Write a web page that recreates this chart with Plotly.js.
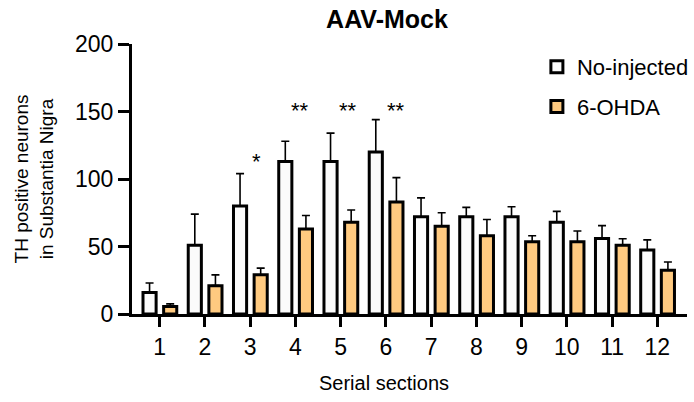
<!DOCTYPE html>
<html>
<head>
<meta charset="utf-8">
<script src="https://cdn.plot.ly/plotly-3.0.1.min.js"></script>
<style>html,body{margin:0;padding:0;background:#fff;}#chart{width:694px;height:402px;}</style>
</head>
<body>
<div id="chart"></div>
<script>
const sections = [1, 2, 3, 4, 5, 6, 7, 8, 9, 10, 11, 12];
const tickLabels = ["1", "2", "3", "4", "5", "6", "7", "8", "9", "10", "11", "12"];
const noInjected = [16, 51, 80, 113, 113, 120, 72, 72, 72, 68, 56, 47.5];
const noInjectedErr = [7, 23, 24, 15, 21, 24, 14, 7, 7.5, 8, 9.5, 7.4];
const ohda = [5.5, 21, 29, 63, 68, 83, 65, 58, 53.5, 53.5, 51, 32.5];
const ohdaErr = [2, 8, 5, 10, 9, 18, 10, 12, 4.5, 8, 4.7, 6];
const sigSections = [3, 4, 5, 6];
const sigLabels = ["*", "**", "**", "**"];
const sigLevels = [113, 151, 151, 151];
const sigShift = [0.14, 0.1, 0.16, 0.23];

const FONT = "Arial, 'Liberation Sans', Helvetica, sans-serif";
const zeros = sections.map(() => 0);

const traces = [
  {
    type: "bar", name: "No-injected", x: sections, y: noInjected,
    width: 0.29, offset: -0.368,
    marker: {color: "#fbfbfb", line: {color: "#000", width: 3}},
    error_y: {type: "data", symmetric: false, array: noInjectedErr, arrayminus: zeros,
              color: "#000", thickness: 1.6, width: 4},
    legendgroup: "a"
  },
  {
    type: "bar", name: "6-OHDA", x: sections, y: ohda,
    width: 0.29, offset: 0.088,
    marker: {color: "#ffca80", line: {color: "#000", width: 3}},
    error_y: {type: "data", symmetric: false, array: ohdaErr, arrayminus: zeros,
              color: "#000", thickness: 1.6, width: 4},
    legendgroup: "b"
  }
];

const annotations = sigSections.map((s, i) => ({
  x: s + sigShift[i], y: sigLevels[i], xref: "x", yref: "y",
  text: sigLabels[i], showarrow: false, yanchor: "middle", xanchor: "center",
  font: {family: FONT, size: 22, color: "#000"}
}));
annotations.push({
  x: (387 - 132) / 562, y: (314 - 383) / 270, xref: "paper", yref: "paper", text: "Serial sections",
  showarrow: false, xanchor: "center", yanchor: "middle",
  font: {family: FONT, size: 20, color: "#000"}
});

const layout = {
  width: 694, height: 402,
  margin: {l: 132, r: 0, t: 44, b: 88},
  paper_bgcolor: "#fff", plot_bgcolor: "#fff",
  barmode: "overlay",
  showlegend: true,
  title: {text: "<b>AAV-Mock</b>", x: 387 / 694, xref: "container", xanchor: "center",
          y: 1 - 19 / 402, yref: "container", yanchor: "middle",
          font: {family: FONT, size: 25, color: "#000"}},
  xaxis: {
    type: "linear", range: [0.389, 12.655], tickmode: "array",
    tickvals: sections, ticktext: tickLabels,
    showline: true, linecolor: "#000", linewidth: 3,
    ticks: "outside", ticklen: 10, tickwidth: 3, tickcolor: "#000",
    showgrid: false, zeroline: false,
    tickfont: {family: FONT, size: 23, color: "#000"}
  },
  yaxis: {
    range: [0, 200], tickvals: [0, 50, 100, 150, 200],
    showline: true, linecolor: "#000", linewidth: 3,
    ticks: "outside", ticklen: 11, tickwidth: 3, tickcolor: "#000",
    showgrid: false, zeroline: false,
    tickfont: {family: FONT, size: 23, color: "#000"},
    title: {text: "TH positive neurons<br>in Substantia Nigra", standoff: 17,
            font: {family: FONT, size: 19, color: "#000"}}
  },
  legend: {
    x: (542 - 132) / 562, xref: "paper", xanchor: "left",
    y: (314 - 46) / 270, yref: "paper", yanchor: "top",
    bgcolor: "rgba(0,0,0,0)", traceorder: "grouped", tracegroupgap: 8,
    font: {family: FONT, size: 22, color: "#000"}
  },
  annotations: annotations
};

Plotly.newPlot("chart", traces, layout, {displayModeBar: false, staticPlot: true});
</script>
</body>
</html>
